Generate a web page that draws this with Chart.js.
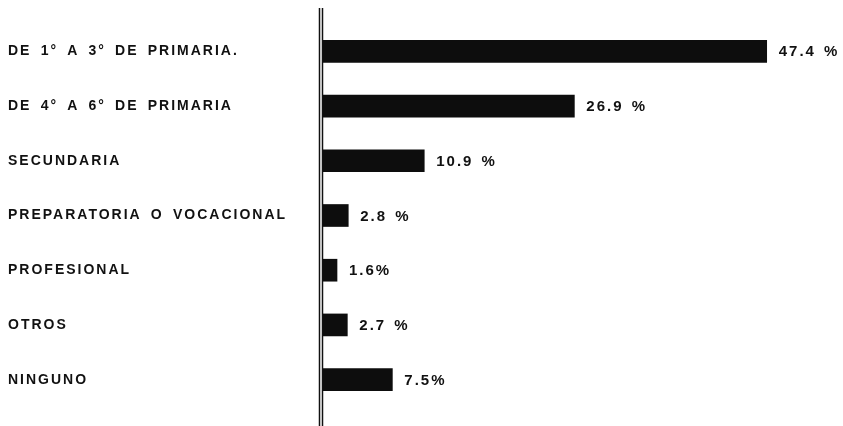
<!DOCTYPE html>
<html>
<head>
<meta charset="utf-8">
<script src="https://cdn.jsdelivr.net/npm/chart.js@4/dist/chart.umd.min.js"></script>
<style>
html,body{margin:0;padding:0;background:#fff;}
#wrap{width:843px;height:426px;position:relative;}
</style>
</head>
<body>
<div id="wrap"><canvas id="c" width="843" height="426"></canvas></div>
<script>
const categories = [
  "DE 1° A 3° DE PRIMARIA.",
  "DE 4° A 6° DE PRIMARIA",
  "SECUNDARIA",
  "PREPARATORIA O VOCACIONAL",
  "PROFESIONAL",
  "OTROS",
  "NINGUNO"
];
const values = [47.4, 26.9, 10.9, 2.8, 1.6, 2.7, 7.5];
const valueLabels = ["47.4 %", "26.9 %", "10.9 %", "2.8 %", "1.6%", "2.7 %", "7.5%"];

const spacingPlugin = {
  id: 'spacing',
  beforeDraw(chart) {
    chart.ctx.letterSpacing = '2px';
    chart.ctx.wordSpacing = '3.3px';
  },
  afterDraw(chart) {
    const ctx = chart.ctx;
    ctx.save();
    // axis double line
    ctx.strokeStyle = '#111';
    ctx.lineWidth = 1.5;
    [319.5, 322.5].forEach(x => {
      ctx.beginPath();
      ctx.moveTo(x, 8);
      ctx.lineTo(x, 426);
      ctx.stroke();
    });
    // value labels
    const meta = chart.getDatasetMeta(0);
    ctx.letterSpacing = '2px';
    ctx.wordSpacing = '2px';
    ctx.font = 'bold 15px "Liberation Sans", Arial, sans-serif';
    ctx.fillStyle = '#111';
    ctx.textBaseline = 'middle';
    ctx.textAlign = 'left';
    meta.data.forEach((bar, i) => {
      ctx.fillText(valueLabels[i], bar.x + 12, bar.y + 1);
    });
    ctx.restore();
  }
};

new Chart(document.getElementById('c'), {
  type: 'bar',
  data: {
    labels: categories,
    datasets: [{
      data: values,
      backgroundColor: '#0d0d0d',
      borderWidth: 0,
      barThickness: 22
    }]
  },
  options: {
    indexAxis: 'y',
    responsive: false,
    animation: false,
    layout: { padding: { left: 8, right: 5, top: 24, bottom: 19 } },
    plugins: { legend: { display: false }, tooltip: { enabled: false } },
    scales: {
      x: { display: false, min: 0, max: 55 },
      y: {
        grid: { display: false },
        border: { display: false },
        afterFit(scale) { scale.width = 314; },
        ticks: {
          crossAlign: 'far',
          color: '#111',
          font: { family: '"Liberation Sans", Arial, sans-serif', size: 14, weight: 'bold' }
        }
      }
    }
  },
  plugins: [spacingPlugin]
});
</script>
</body>
</html>
